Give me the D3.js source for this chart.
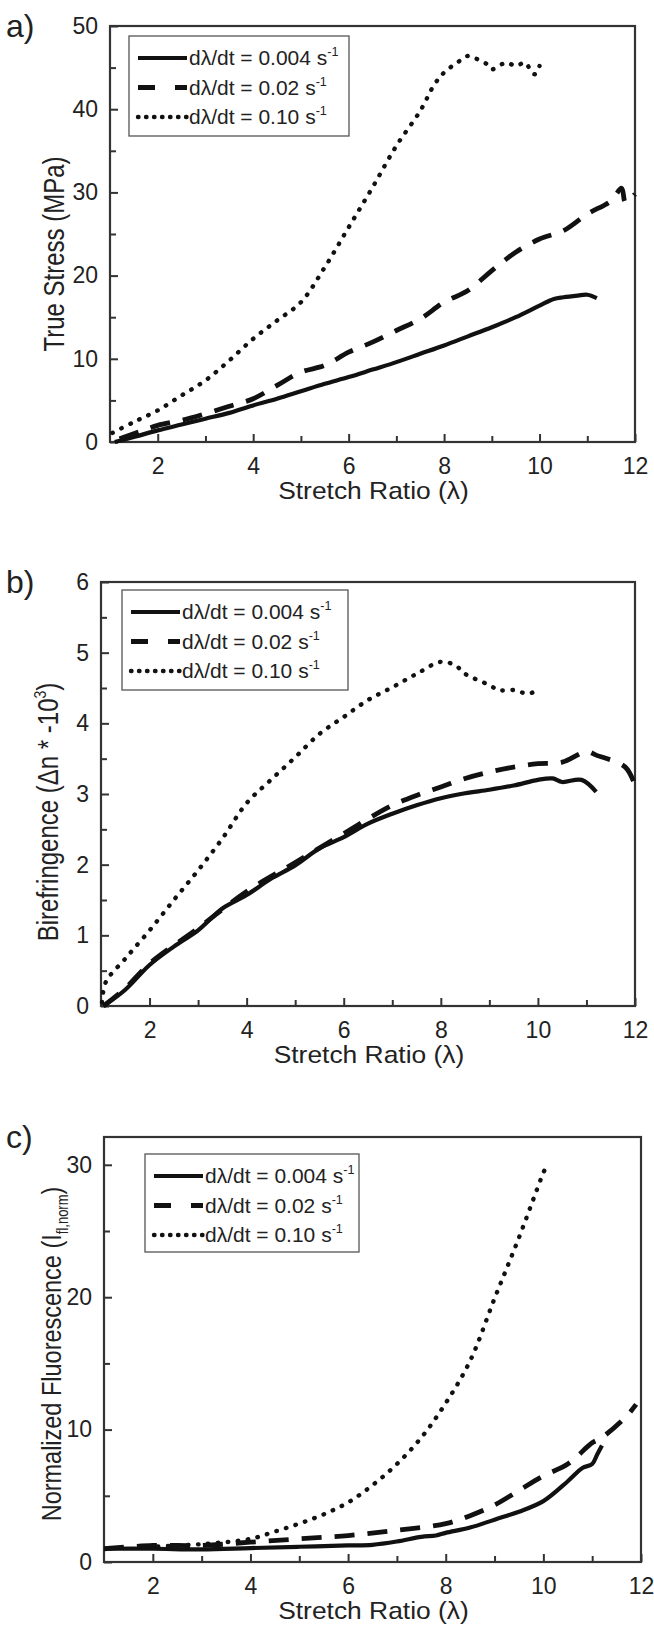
<!DOCTYPE html>
<html>
<head>
<meta charset="UTF-8">
<title>Stress, birefringence and fluorescence vs stretch ratio</title>
<script src="https://cdn.jsdelivr.net/npm/d3@7"></script>
<style>
    body { margin: 0; background: #fff; }
    svg { display: block; font-family: "Liberation Sans", Arial, sans-serif; }
    .tick text { fill: #222; }
    .tick line { stroke: #333; stroke-width: 2px; }
    .frame { fill: none; stroke: #333; stroke-width: 2.2px; }
    .legend-box { fill: #fff; stroke: #555; stroke-width: 1.3px; }
    .curve { fill: none; stroke: #111; }
</style>
</head>
<body>
<div id="chart"></div>
<script>
// ---- data ----
var xTicks = [2, 4, 6, 8, 10, 12];
var xMinor = [3, 5, 7, 9, 11];
var rateLabels = ["0.004", "0.02", "0.10"];

// a) true stress (MPa)
var stressSlow = [[1.1,0],[1.5,0.6],[2,1.4],[2.5,2.1],[3,2.8],[3.5,3.5],[4,4.4],[4.5,5.2],[5,6.1],[5.5,7.0],[6,7.8],[6.5,8.7],[7,9.6],[7.5,10.6],[8,11.6],[8.5,12.7],[9,13.8],[9.5,15.0],[10,16.4],[10.3,17.2],[10.5,17.4],[10.8,17.6],[11,17.7],[11.2,17.3]];
var stressMid = [[1.2,0.4],[1.6,1.2],[2,2.0],[2.5,2.6],[3,3.4],[3.5,4.3],[4,5.2],[4.5,6.8],[5,8.4],[5.5,9.2],[6,10.8],[6.5,12.0],[7,13.4],[7.5,14.8],[8,16.8],[8.5,18.2],[9,20.6],[9.5,22.8],[10,24.4],[10.5,25.4],[11,27.4],[11.5,29.0],[11.72,30.5],[11.8,28.8],[12,29.8]];
var stressFast = [[1.05,1.1],[1.5,2.4],[2,3.8],[2.5,5.6],[3,7.4],[3.5,9.8],[4,12.4],[4.5,14.6],[5,16.8],[5.5,21.0],[6,25.8],[6.5,30.6],[7,35.6],[7.5,39.8],[7.8,43.0],[8,44.4],[8.3,45.7],[8.5,46.4],[8.7,46.0],[8.9,45.4],[9,44.8],[9.3,45.6],[9.5,45.2],[9.7,45.6],[9.8,44.8],[9.9,44.2],[10,45.2]];

// b) birefringence (dn * -10^3)
var biSlow = [[1.05,0],[1.5,0.23],[2,0.58],[2.5,0.84],[3,1.07],[3.5,1.38],[4,1.57],[4.5,1.80],[5,1.99],[5.5,2.23],[6,2.39],[6.5,2.58],[7,2.72],[7.5,2.84],[8,2.94],[8.5,3.01],[9,3.06],[9.5,3.12],[10,3.20],[10.3,3.22],[10.5,3.17],[10.9,3.20],[11.2,3.03]];
var biMid = [[1.05,0],[1.5,0.25],[2,0.60],[3,1.10],[4,1.62],[5,2.03],[6,2.44],[6.5,2.65],[7,2.84],[7.5,2.98],[8,3.10],[8.5,3.22],[9,3.31],[9.5,3.38],[10,3.43],[10.5,3.45],[11,3.60],[11.2,3.55],[11.8,3.38],[12,3.12]];
var biFast = [[1.02,0.05],[1.1,0.34],[1.5,0.67],[2,1.07],[2.5,1.50],[3,1.92],[3.5,2.37],[4,2.87],[4.5,3.20],[5,3.52],[5.5,3.85],[6,4.09],[6.5,4.33],[7,4.51],[7.5,4.70],[8,4.87],[8.3,4.82],[8.5,4.70],[9,4.54],[9.2,4.47],[9.5,4.47],[9.8,4.42],[10,4.47]];

// c) normalized fluorescence
var fluorSlow = [[1,1.0],[2,1.0],[3,0.95],[4,1.05],[5,1.15],[6,1.25],[6.5,1.3],[7,1.55],[7.5,1.9],[7.8,2.0],[8,2.2],[8.5,2.6],[9,3.2],[9.5,3.8],[10,4.6],[10.5,6.1],[10.8,7.1],[11,7.4],[11.1,8.1],[11.2,8.8]];
var fluorMid = [[1,1.0],[2,1.25],[3,1.25],[4,1.5],[5,1.75],[6,2.0],[7,2.4],[8,2.9],[8.5,3.5],[9,4.3],[9.5,5.4],[10,6.5],[10.5,7.4],[11,9.0],[11.2,9.4],[11.7,11.0],[11.9,11.9]];
var fluorFast = [[1.9,1.15],[3,1.35],[4,1.75],[4.5,2.3],[5,2.9],[5.5,3.6],[6,4.5],[6.5,5.8],[7,7.4],[7.5,9.4],[8,12.0],[8.5,15.2],[9,19.9],[9.5,24.5],[10,29.4],[10.05,29.8]];

var styles = [
    {width: 4.2, dash: null, legendDash: null, cap: "butt"},
    {width: 4.8, dash: "20,13", legendDash: "17,20", cap: "butt"},
    {width: 4.4, dash: "0.5,9.5", legendDash: "0.5,7.5", cap: "round"}
];

var panels = [
    {tag: "a)", left: 110, right: 635, top: 26, bottom: 442, yMax: 50, yMajor: [0,10,20,30,40,50], yMinor: [5,15,25,35,45],
     series: [stressSlow, stressMid, stressFast], yTitleX: 54, yTitleY: 254, yTitleSize: 24, legend: {x: 129, y: 36, w: 220, h: 100}},
    {tag: "b)", left: 101, right: 635, top: 582, bottom: 1006, yMax: 6, yMajor: [0,1,2,3,4,5,6], yMinor: [0.5,1.5,2.5,3.5,4.5,5.5],
     series: [biSlow, biMid, biFast], yTitleX: 48, yTitleY: 812, yTitleSize: 24, legend: {x: 122, y: 590, w: 226, h: 100}},
    {tag: "c)", left: 104, right: 641, top: 1137, bottom: 1562, yMax: 32.1, yMajor: [0,10,20,30], yMinor: [5,15,25],
     series: [fluorSlow, fluorMid, fluorFast], yTitleX: 51, yTitleY: 1354, yTitleSize: 23.5, legend: {x: 145, y: 1154, w: 214, h: 98}}
];

var svg = d3.select("#chart").append("svg")
    .attr("width", 654)
    .attr("height", 1625);

panels.forEach(function (p, k) {
    var x = d3.scaleLinear().domain([1, 12]).range([p.left, p.right]);
    var y = d3.scaleLinear().domain([0, p.yMax]).range([p.bottom, p.top]);
    var g = svg.append("g");

    // minor ticks first, then major with labels
    g.append("g").attr("transform", "translate(0," + p.bottom + ")")
        .call(d3.axisBottom(x).tickValues(xMinor).tickSizeInner(-6).tickSizeOuter(0).tickFormat(""))
        .call(function (s) { s.select(".domain").remove(); });
    g.append("g").attr("transform", "translate(0," + p.bottom + ")")
        .call(d3.axisBottom(x).tickValues(xTicks).tickSizeInner(-8).tickSizeOuter(0).tickPadding(16).tickFormat(d3.format("d")))
        .call(function (s) {
            s.select(".domain").remove();
            s.selectAll("text").attr("font-size", 23).attr("font-family", null);
        });
    g.append("g").attr("transform", "translate(" + p.left + ",0)")
        .call(d3.axisLeft(y).tickValues(p.yMinor).tickSizeInner(-6).tickSizeOuter(0).tickFormat(""))
        .call(function (s) { s.select(".domain").remove(); });
    g.append("g").attr("transform", "translate(" + p.left + ",0)")
        .call(d3.axisLeft(y).tickValues(p.yMajor).tickSizeInner(-8).tickSizeOuter(0).tickPadding(12).tickFormat(d3.format("d")))
        .call(function (s) {
            s.select(".domain").remove();
            s.selectAll("text").attr("font-size", 23).attr("font-family", null);
        });

    g.append("rect").attr("class", "frame")
        .attr("x", p.left).attr("y", p.top)
        .attr("width", p.right - p.left).attr("height", p.bottom - p.top);

    var line = d3.line()
        .x(function (d) { return x(d[0]); })
        .y(function (d) { return y(d[1]); })
        .curve(d3.curveCatmullRom.alpha(0.5));

    p.series.forEach(function (s, i) {
        g.append("path").datum(s)
            .attr("class", "curve")
            .attr("d", line)
            .attr("stroke-width", styles[i].width)
            .attr("stroke-dasharray", styles[i].dash)
            .attr("stroke-linecap", styles[i].cap);
    });

    // legend
    var L = p.legend;
    var lg = g.append("g");
    lg.append("rect").attr("class", "legend-box")
        .attr("x", L.x).attr("y", L.y).attr("width", L.w).attr("height", L.h);
    rateLabels.forEach(function (r, i) {
        var ry = L.y + 22 + i * 29.5;
        lg.append("line")
            .attr("x1", L.x + 9).attr("x2", L.x + 58)
            .attr("y1", ry).attr("y2", ry)
            .attr("stroke", "#111")
            .attr("stroke-width", styles[i].width)
            .attr("stroke-dasharray", styles[i].legendDash)
            .attr("stroke-linecap", styles[i].cap);
        var t = lg.append("text")
            .attr("transform", "translate(" + (L.x + 60) + "," + (ry + 7) + ") scale(1.05,1)")
            .attr("font-size", 20)
            .attr("fill", "#222");
        t.append("tspan").text("d\u03bb/dt = " + r + " s");
        t.append("tspan").attr("font-size", 12).attr("dy", -9).text("-1");
    });

    // panel tag
    svg.append("text")
        .attr("x", 6).attr("y", (p.top + 11))
        .attr("font-size", 32).attr("fill", "#222")
        .text(p.tag);

    // x title
    svg.append("text")
        .attr("text-anchor", "middle")
        .attr("transform", "translate(" + ((p.left + p.right) / 2 + 1) + "," + (p.bottom + 57) + ") scale(1.1,1)")
        .attr("font-size", 24).attr("fill", "#222")
        .text("Stretch Ratio (\u03bb)");

    // y title
    var yt = svg.append("text")
        .attr("text-anchor", "middle")
        .attr("transform", "translate(" + p.yTitleX + "," + p.yTitleY + ") scale(1.2,1) rotate(-90) translate(0,8)")
        .attr("font-size", p.yTitleSize).attr("fill", "#222");
    if (k === 0) {
        yt.text("True Stress (MPa)");
    } else if (k === 1) {
        yt.append("tspan").text("Birefringence (\u0394n * -10");
        yt.append("tspan").attr("font-size", 14).attr("dy", -10).text("3");
        yt.append("tspan").attr("dy", 10).text(")");
    } else {
        yt.append("tspan").text("Normalized Fluorescence (I");
        yt.append("tspan").attr("font-size", 13).attr("dy", 6).text("fl,norm");
        yt.append("tspan").attr("dy", -6).text(")");
    }
});
</script>
</body>
</html>
